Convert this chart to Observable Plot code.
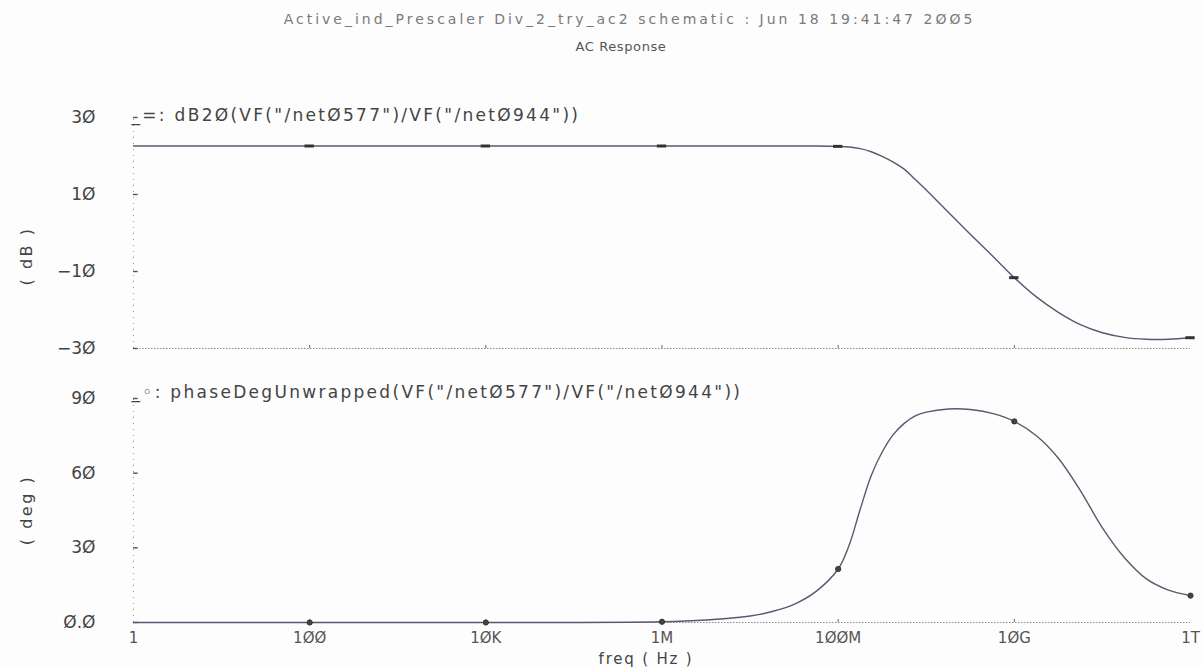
<!DOCTYPE html>
<html>
<head>
<meta charset="utf-8">
<script src="https://cdn.jsdelivr.net/npm/d3@7"></script>
<script src="https://cdn.jsdelivr.net/npm/@observablehq/plot@0.6"></script>
<style>
  html, body { margin:0; padding:0; background:#fdfdfd; }
  #page { position:relative; width:1203px; height:668px; overflow:hidden; font-family:"DejaVu Sans", sans-serif; color:#444; }
  .abs { position:absolute; }
  #title { top:11px; left:0; width:1259px; text-align:center; font-size:14px; letter-spacing:3px; color:#7a7a7a; white-space:nowrap; }
  #sub { top:39px; left:0; width:1242px; text-align:center; font-size:13px; letter-spacing:0.6px; color:#555; }
  .ylab { font-size:16px; letter-spacing:2.5px; white-space:pre; transform-origin:center; transform:translate(-50%,-50%) rotate(-90deg); color:#444; }
  #xlab { font-size:15px; letter-spacing:1.8px; white-space:pre; transform:translate(-50%,-50%); color:#444; }
  .panel g[aria-label="text"] text { letter-spacing: 2.3px; }
</style>
</head>
<body>
<div id="page">
  <div id="title" class="abs">Active_ind_Prescaler Div_2_try_ac2 schematic : Jun 18 19:41:47 2ØØ5</div>
  <div id="sub" class="abs">AC Response</div>
  <div id="gainPanel" class="abs panel" style="top:60px;left:0"></div>
  <div id="phasePanel" class="abs panel" style="top:375px;left:0"></div>
  <div class="abs ylab" style="left:26px;top:256px">( dB )</div>
  <div class="abs ylab" style="left:26px;top:510px">( deg )</div>
  <div id="xlab" class="abs" style="left:646px;top:659px">freq ( Hz )</div>
</div>
<script>
// ---- data ----
const freqHz = [1, 1e2, 1e4, 1e6, 3.16e6, 1e7, 1.78e7, 3.16e7, 5.62e7,
  1e8, 1.33e8, 1.78e8, 2.37e8, 3.16e8, 4.22e8, 5.62e8, 7.5e8,
  1e9, 1.78e9, 3.16e9, 5.62e9, 1e10, 1.78e10, 3.16e10, 5.62e10,
  1e11, 1.78e11, 3.16e11, 5.62e11, 1e12];
const gainDb = [22.6, 22.6, 22.6, 22.6, 22.6, 22.6, 22.6, 22.6, 22.6,
  22.5, 22.35, 21.9, 21.1, 19.9, 18.4, 16.6, 13.9,
  11.2, 5.4, -0.3, -5.9, -11.6, -16.6, -20.6, -23.8,
  -25.9, -27.1, -27.6, -27.6, -27.2];
const phaseDeg = [0, 0, 0, 0.3, 1.0, 2.6, 4.4, 7.3, 12.5,
  21.5, 31, 45.5, 59, 68.5, 75.5, 80, 83,
  84.5, 85.8, 85.6, 84, 80.8, 75, 66, 53,
  38, 26, 17.5, 13, 10.8];
const markerFreqHz = [1e2, 1e4, 1e6, 1e8, 1e10, 1e12];
const gainTicks = [30, 10, -10, -30];
const gainTickLabels = ["3Ø", "1Ø", "−1Ø", "−3Ø"];
const phaseTicks = [90, 60, 30, 0];
const phaseTickLabels = ["9Ø", "6Ø", "3Ø", "Ø.Ø"];
const freqTicks = [1, 1e2, 1e4, 1e6, 1e8, 1e10, 1e12];
const freqTickLabels = ["1", "1ØØ", "1ØK", "1M", "1ØØM", "1ØG", "1T"];
const gainLegend = "_=: dB2Ø(VF(\"/netØ577\")/VF(\"/netØ944\"))";
const phaseLegend = "_◦: phaseDegUnwrapped(VF(\"/netØ577\")/VF(\"/netØ944\"))";

const gainData = freqHz.map((f, i) => ({f, v: gainDb[i]}));
const phaseData = freqHz.map((f, i) => ({f, v: phaseDeg[i]}));
const gainMarkers = gainData.filter(d => markerFreqHz.includes(d.f));
const phaseMarkers = phaseData.filter(d => markerFreqHz.includes(d.f));

const lineColor = "#555a6e";
const font = "DejaVu Sans, sans-serif";
const common = {
  width: 1203, marginLeft: 133, marginRight: 13,
  style: {fontFamily: font, background: "transparent", color: "#444", overflow: "visible"}
};

const gainChart = Plot.plot({
  ...common,
  height: 300, marginTop: 57, marginBottom: 12,
  x: {type: "log", domain: [1, 1e12], axis: null},
  y: {domain: [-30, 30], axis: null},
  marks: [
    Plot.ruleY([-30], {stroke: "#8a8a8a", strokeDasharray: "1.5,1.5"}),
    Plot.ruleX([1], {y1: () => -30, y2: () => 30, stroke: "#9a9a9a", strokeDasharray: "1,5"}),
    Plot.ruleY(gainTicks, {y: d => d, x1: () => 1, x2: () => 1.13, stroke: "#555", strokeWidth: 1.4}),
    Plot.ruleX(freqTicks.slice(1, -1), {x: d => d, y1: () => -30, y2: () => -29.2, stroke: "#666"}),
    Plot.axisY(gainTicks, {tickSize: 0, tickPadding: 38, label: null, fontSize: 17,
      tickFormat: d => gainTickLabels[gainTicks.indexOf(d)], fill: "#444"}),
    Plot.line(gainData, {x: "f", y: "v", curve: "catmull-rom", stroke: lineColor, strokeWidth: 1.4}),
    Plot.ruleY(gainMarkers, {y: "v", x1: d => d.f / 1.13, x2: d => d.f * 1.13, stroke: "#333", strokeWidth: 3}),
    Plot.text([gainLegend], {frameAnchor: "top-left", dx: -2, dy: -2, text: d => d, fontSize: 17,
      textAnchor: "start", lineAnchor: "middle", fill: "#444"})
  ]
});
document.getElementById("gainPanel").appendChild(gainChart);

const phaseChart = Plot.plot({
  ...common,
  height: 293, marginTop: 23, marginBottom: 46,
  x: {type: "log", domain: [1, 1e12], axis: null},
  y: {domain: [0, 90], axis: null},
  marks: [
    Plot.ruleY([0], {stroke: "#8a8a8a", strokeDasharray: "1.5,1.5"}),
    Plot.ruleX([1], {y1: () => 0, y2: () => 90, stroke: "#9a9a9a", strokeDasharray: "1,5"}),
    Plot.ruleY(phaseTicks, {y: d => d, x1: () => 1, x2: () => 1.13, stroke: "#555", strokeWidth: 1.4}),
    Plot.ruleX(freqTicks.slice(1, -1), {x: d => d, y1: () => 0, y2: () => 1.2, stroke: "#666"}),
    Plot.axisY(phaseTicks, {tickSize: 0, tickPadding: 38, label: null, fontSize: 17,
      tickFormat: d => phaseTickLabels[phaseTicks.indexOf(d)], fill: "#444"}),
    Plot.axisX(freqTicks, {tickSize: 0, tickPadding: 10, label: null, fontSize: 15,
      tickFormat: d => freqTickLabels[freqTicks.indexOf(d)], fill: "#555"}),
    Plot.line(phaseData, {x: "f", y: "v", curve: "catmull-rom", stroke: lineColor, strokeWidth: 1.4}),
    Plot.dot(phaseMarkers, {x: "f", y: "v", r: 2.6, fill: "#444", stroke: "#333", strokeWidth: 1}),
    Plot.text([phaseLegend], {frameAnchor: "top-left", dx: -2, dy: -6, text: d => d, fontSize: 17,
      textAnchor: "start", lineAnchor: "middle", fill: "#444"})
  ]
});
document.getElementById("phasePanel").appendChild(phaseChart);
</script>
</body>
</html>
